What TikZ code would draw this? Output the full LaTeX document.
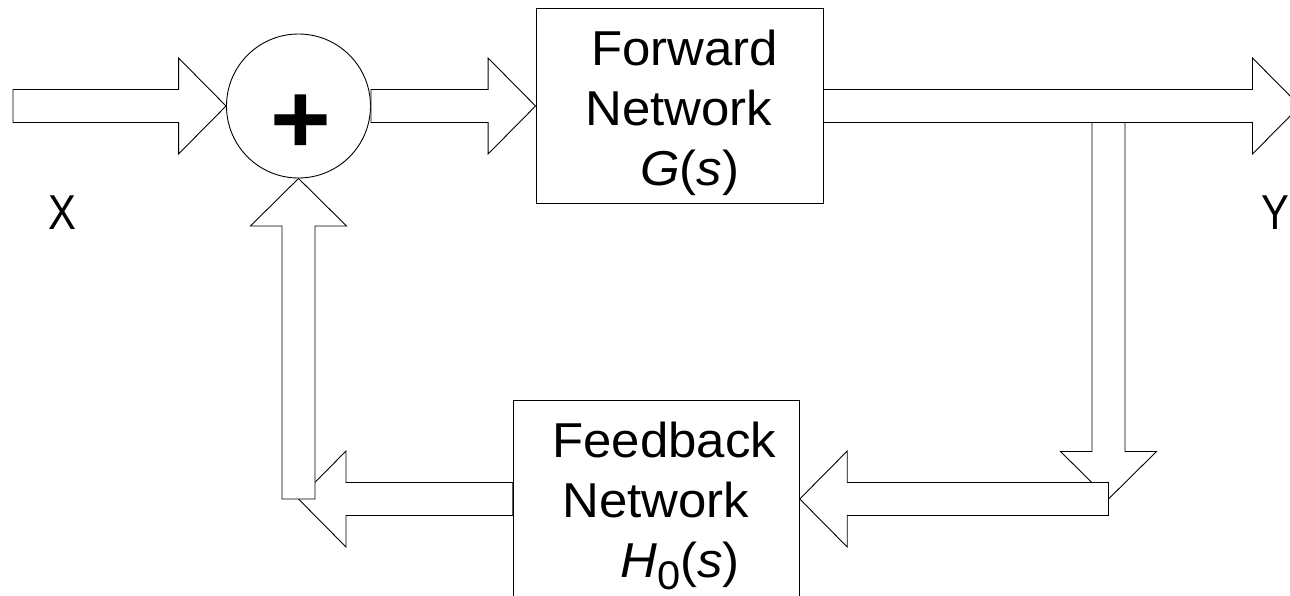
\documentclass[tikz,border=0pt]{standalone}
\usepackage{fontspec}
\setmainfont{Liberation Sans}[FakeStretch=1.04]
\usetikzlibrary{calc}

% block-arrow geometry
\newcommand\shafthw{16.5pt}
\newcommand\headhw{48pt}
\newcommand\headlen{47.5pt}

% outlined block arrow from a tail point to a tip point
\newcommand\blockarrow[2]{%
  \path ($(#2)!\headlen!(#1)$) coordinate (arrowbase);
  \draw[blk] ($(#1)!\shafthw!90:(#2)$)
    -- ($(arrowbase)!\shafthw!90:(#2)$)
    -- ($(arrowbase)!\headhw!90:(#2)$)
    -- (#2)
    -- ($(arrowbase)!\headhw!-90:(#2)$)
    -- ($(arrowbase)!\shafthw!-90:(#2)$)
    -- ($(#1)!\shafthw!-90:(#2)$) -- cycle;}

% subscript set nearly full size and dropped below the baseline
\newcommand\lowsub[1]{\raisebox{-12pt}{\fontsize{40}{40}\selectfont #1}}

\begin{document}
\begin{tikzpicture}[x=1pt,y=-1pt,
  blk/.style={draw=black, fill=white, line width=0.9pt, line join=miter},
  boxnode/.style={draw=black, fill=white, line width=0.9pt, minimum width=287pt,
    minimum height=195pt, inner sep=0pt},
  sumnode/.style={circle, draw=black, fill=white, line width=0.9pt,
    minimum size=144pt, inner sep=0pt},
  lbl/.style={inner sep=0pt, anchor=base west, font=\fontsize{49}{60}\selectfont}]
\useasboundingbox (0,0) rectangle (1290,595);
\clip (0,0) rectangle (1290,595);

% blocks and junction points
\coordinate (xin) at (13,106);
\node[sumnode] (sum) at (298.5,106) {};
\node[inner sep=0pt, anchor=base, font=\bfseries\fontsize{100}{100}\selectfont]
  (plus) at (301,153) {+};
\node[boxnode] (fwd) at (679.5,106) {};
\coordinate (yout) at (1300,106);
\coordinate (tap) at (1108.5,122.5);
\coordinate (turn) at (1108.5,499);
\node[boxnode, minimum width=286pt, minimum height=197pt] (fb) at (656.3,499) {};
\coordinate (ret) at (298.5,499);

% signal path
\blockarrow{xin}{sum.west}
\blockarrow{sum.east}{fwd.west}
\blockarrow{fwd.east}{yout}
\blockarrow{tap}{turn}
\blockarrow{turn}{fb.east}
\blockarrow{fb.west}{ret}
\blockarrow{ret}{sum.south}

% labels
\node[lbl] (xlbl) at (48,229) {\scalebox{0.82}[1]{X}};
\node[lbl] (ylbl) at (1261,229) {\scalebox{0.82}[1]{Y}};
\node[lbl] (f1) at (591,65.3) {Forward};
\node[lbl] (f2) at (585,125.3) {Network};
\node[lbl] (f3) at (640,185.3) {\textit{G}(\textit{s})};
\node[lbl] (b1) at (552,457.3) {Feedback};
\node[lbl] (b2) at (562,517.3) {Network};
\node[lbl] (b3) at (620,577) {\textit{H}\lowsub{0}(\textit{s})};
\end{tikzpicture}
\end{document}
